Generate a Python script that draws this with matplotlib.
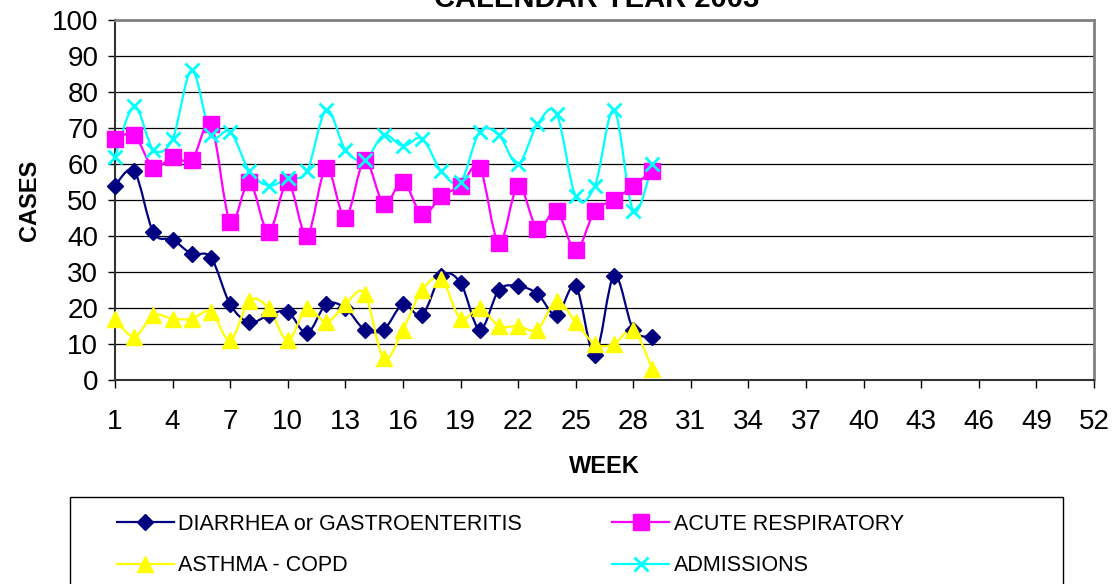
import numpy as np
import matplotlib
matplotlib.use("Agg")
import matplotlib.pyplot as plt
from matplotlib.path import Path
from matplotlib.patches import PathPatch, Rectangle
from matplotlib.lines import Line2D

plt.rcParams['font.family'] = ['Liberation Sans', 'DejaVu Sans']

# weekly case counts
weeks = list(range(1, 30))
diarrhea = [54, 58, 41, 39, 35, 34, 21, 16, 18, 19, 13, 21, 20, 14, 14,
            21, 18, 29, 27, 14, 25, 26, 24, 18, 26, 7, 29, 14, 12]
acute_resp = [67, 68, 59, 62, 61, 71, 44, 55, 41, 55, 40, 59, 45, 61, 49,
              55, 46, 51, 54, 59, 38, 54, 42, 47, 36, 47, 50, 54, 58]
asthma = [17, 12, 18, 17, 17, 19, 11, 22, 20, 11, 20, 16, 21, 24, 6,
          14, 25, 28, 17, 20, 15, 15, 14, 22, 16, 10, 10, 14, 3]
admissions = [62, 76, 64, 67, 86, 68, 69, 58, 54, 56, 58, 75, 64, 61, 68,
              65, 67, 58, 55, 69, 68, 60, 71, 74, 51, 54, 75, 47, 60]

labels = ['DIARRHEA or GASTROENTERITIS', 'ACUTE RESPIRATORY',
          'ASTHMA - COPD', 'ADMISSIONS']
colors = ['#000080', '#FF00FF', '#FFFF00', '#00FFFF']
markers = ['D', 's', '^', 'x']
msizes = [8, 11, 11, 10]
x_ticks = list(range(1, 53, 3))
y_ticks = list(range(0, 101, 10))


def smooth_path(x, y):
    # catmull-rom style smoothing, like the excel "smoothed line" option
    pts = np.column_stack([x, y]).astype(float)
    verts = [pts[0]]
    codes = [Path.MOVETO]
    n = len(pts)
    for i in range(n - 1):
        p0 = pts[i - 1] if i > 0 else pts[i]
        p1 = pts[i]
        p2 = pts[i + 1]
        p3 = pts[i + 2] if i + 2 < n else pts[i + 1]
        c1 = p1 + (p2 - p0) / 6.0
        c2 = p2 - (p3 - p1) / 6.0
        verts += [c1, c2, p2]
        codes += [Path.CURVE4] * 3
    return Path(verts, codes)


fig = plt.figure(figsize=(11.15, 5.84), dpi=100)
ax = fig.add_axes([115 / 1115, 204 / 584, 979 / 1115, 360 / 584])

series = [diarrhea, acute_resp, asthma, admissions]
handles = []
for vals, col, mk, ms, lab in zip(series, colors, markers, msizes, labels):
    ax.add_patch(PathPatch(smooth_path(weeks, vals), fill=False,
                           edgecolor=col, lw=1.6, zorder=3, clip_on=False))
    mew = 2 if mk == 'x' else 1
    ax.plot(weeks, vals, ls='none', marker=mk, ms=ms, color=col,
            mec=col, mew=mew, zorder=4, clip_on=False)
    handles.append(Line2D([], [], color=col, lw=1.6, marker=mk, ms=ms,
                          mew=mew, label=lab))

ax.set_xlim(1, 52)
ax.set_ylim(0, 100)
ax.set_xticks(x_ticks)
ax.set_yticks(y_ticks)
ax.tick_params(axis='x', labelsize=20, length=6, width=1, pad=15)
ax.tick_params(axis='y', labelsize=20, length=5, width=1, pad=7)
ax.yaxis.grid(True, color='black', lw=0.9)
ax.set_axisbelow(True)
for s in ['top', 'right']:
    ax.spines[s].set_color('#808080')
    ax.spines[s].set_linewidth(2)
for s in ['left', 'bottom']:
    ax.spines[s].set_color('#333333')
    ax.spines[s].set_linewidth(1.5)

ax.set_xlabel('WEEK', fontsize=17, fontweight='bold', labelpad=14)
ax.set_ylabel('CASES', fontsize=17, fontweight='bold', labelpad=8)

fig.text(597 / 1115, 1 - 7 / 584, 'CALENDAR YEAR 2003', fontsize=21,
         fontweight='bold', ha='center', va='baseline')

# legend box runs off the bottom of the image
fig.patches.append(Rectangle((70 / 1115, -0.1), 993 / 1115, 0.1 + 87 / 584,
                             transform=fig.transFigure, fill=False,
                             edgecolor='black', lw=1))
# excel fills the legend row by row
leg_order = [0, 2, 1, 3]
leg = fig.legend(handles=[handles[i] for i in leg_order], loc='upper left',
                 ncol=2, bbox_to_anchor=(108 / 1115, 1 - 505 / 584),
                 frameon=False, fontsize=15.5, handlelength=2.65,
                 handletextpad=0.2, columnspacing=4.2, labelspacing=0.95,
                 borderaxespad=0)

fig.savefig('out.png', dpi=100)
